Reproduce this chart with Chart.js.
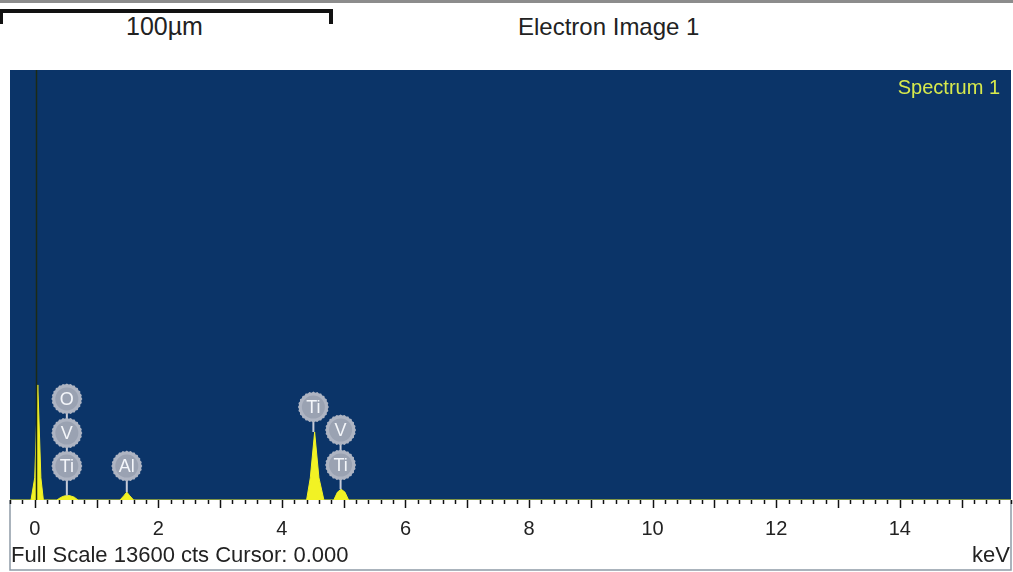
<!DOCTYPE html>
<html>
<head>
<meta charset="utf-8">
<script src="https://cdn.jsdelivr.net/npm/chart.js@4/dist/chart.umd.min.js"></script>
<style>
  body { margin: 0; background: #fff; font-family: "Liberation Sans", Arial, sans-serif; }
  #wrap { position: relative; width: 1013px; height: 572px; overflow: hidden; }
  #topband { position: absolute; left: 0; top: 0; width: 1013px; height: 3px; background: #8c8c8c; }
  #scalebar { position: absolute; left: 0; top: 9px; width: 326px; height: 11px;
              border-top: 4px solid #111; border-left: 3px solid #111; border-right: 4px solid #111; }
  .txt { position: absolute; white-space: nowrap; color: #222; line-height: 1; }
  canvas { position: absolute; left: 0; top: 0; }
</style>
</head>
<body>
<div id="wrap">
  <div id="topband"></div>
  <div id="scalebar"></div>
  <div class="txt" style="left:126px; top:14px; font-size:25px;">100µm</div>
  <div class="txt" style="left:518px; top:15px; font-size:24px;">Electron Image 1</div>
  <canvas id="chart" width="1013" height="572"></canvas>
  <div class="txt" style="right:13px; top:77px; font-size:20px; color:#d8ea4c;">Spectrum 1</div>
  <div class="txt" style="left:11px; top:544px; font-size:22px;">Full Scale 13600 cts Cursor: 0.000</div>
  <div class="txt" style="right:3px; top:544px; font-size:22px;">keV</div>
</div>
<script>
// spectrum (keV, counts)
var energies = [-0.4, -0.06, 0.0, 0.05, 0.1, 0.14, 0.36, 0.42, 0.48, 0.56, 0.64, 0.7,
                1.38, 1.44, 1.49, 1.54, 1.6, 4.4, 4.46, 4.53, 4.6, 4.68, 4.84, 4.9, 4.96, 5.02, 5.08, 15.8];
var counts   = [0, 0, 700, 3640, 700, 0, 0, 80, 130, 140, 90, 0,
                0, 130, 250, 130, 0, 0, 700, 2150, 700, 0, 0, 250, 340, 250, 0, 0];

// x axis labels
var xTickValues = [0, 2, 4, 6, 8, 10, 12, 14];
var fullScale = 13600;
var cursorKeV = 0.0;

// element markers: text, energy and height (counts) of badge
var markerTexts    = ['O', 'V', 'Ti', 'Al', 'Ti', 'V', 'Ti'];
var markerEnergies = [0.52, 0.52, 0.52, 1.49, 4.51, 4.95, 4.95];
var markerCounts   = [3195, 2119, 1075, 1075, 2941, 2214, 1107];

// stems from the badges down to the peak
var stemEnergies = [0.52, 1.49, 4.51, 4.95];
var stemTops     = [3195, 1075, 2941, 2214];
var stemEnds     = [140, 250, 2150, 340];

var points = energies.map(function(e, i) { return { x: e, y: counts[i] }; });

// paint the navy plot area and the axis strip (frame, ticks, labels)
var backdrop = {
    id: 'backdrop',
    beforeDraw: function(chart) {
        var a = chart.chartArea, ctx = chart.ctx;
        ctx.save();
        ctx.fillStyle = '#0b3468';
        ctx.fillRect(a.left, a.top, a.right - a.left, a.bottom - a.top);
        ctx.restore();
    },
    afterDraw: function(chart) {
        var a = chart.chartArea, ctx = chart.ctx, xs = chart.scales.x;
        ctx.save();
        // frame round the axis strip
        ctx.strokeStyle = '#8e9aa6';
        ctx.lineWidth = 1.5;
        ctx.beginPath();
        ctx.moveTo(a.left, a.bottom);
        ctx.lineTo(a.left, 570);
        ctx.lineTo(a.right, 570);
        ctx.lineTo(a.right, a.bottom);
        ctx.stroke();
        // minor and major ticks
        ctx.strokeStyle = '#111';
        ctx.lineWidth = 1.5;
        for (var k = -2; k <= 79; k++) {
            var v = k / 5;
            var px = Math.round(xs.getPixelForValue(v)) + 0.5;
            var len = (k % 5 === 0) ? 8 : 4;
            ctx.beginPath();
            ctx.moveTo(px, a.bottom);
            ctx.lineTo(px, a.bottom + len);
            ctx.stroke();
        }
        // tick labels
        ctx.fillStyle = '#222';
        ctx.font = '20px "Liberation Sans", Arial, sans-serif';
        ctx.textAlign = 'center';
        ctx.textBaseline = 'alphabetic';
        xTickValues.forEach(function(v) {
            ctx.fillText(String(v), xs.getPixelForValue(v), a.bottom + 35);
        });
        ctx.restore();
    }
};

// cursor line, stems and element badges
var markers = {
    id: 'markers',
    afterDatasetsDraw: function(chart) {
        var ctx = chart.ctx, xs = chart.scales.x, ys = chart.scales.y, a = chart.chartArea;
        ctx.save();
        // cursor
        var cx = Math.round(xs.getPixelForValue(cursorKeV)) + 1.5;
        ctx.strokeStyle = '#1c2a14';
        ctx.lineWidth = 1.5;
        ctx.beginPath();
        ctx.moveTo(cx, a.top);
        ctx.lineTo(cx, a.bottom);
        ctx.stroke();
        // stems
        ctx.strokeStyle = '#c8ccd8';
        ctx.lineWidth = 2;
        stemEnergies.forEach(function(e, i) {
            var px = xs.getPixelForValue(e);
            ctx.beginPath();
            ctx.moveTo(px, ys.getPixelForValue(stemTops[i]));
            ctx.lineTo(px, ys.getPixelForValue(stemEnds[i]));
            ctx.stroke();
        });
        // badges
        markerTexts.forEach(function(t, i) {
            var px = xs.getPixelForValue(markerEnergies[i]);
            var py = ys.getPixelForValue(markerCounts[i]);
            ctx.fillStyle = '#aeb4c2';
            ctx.beginPath();
            for (var s = 0; s <= 48; s++) {
                var ang = s / 48 * Math.PI * 2;
                var r = (s % 2 === 0) ? 15.5 : 14.5;
                var qx = px + r * Math.cos(ang), qy = py + r * Math.sin(ang);
                if (s === 0) ctx.moveTo(qx, qy); else ctx.lineTo(qx, qy);
            }
            ctx.closePath();
            ctx.fill();
            ctx.fillStyle = '#9aa2b2';
            ctx.beginPath();
            ctx.arc(px, py, 11.5, 0, Math.PI * 2);
            ctx.fill();
            ctx.fillStyle = '#f4f6fa';
            ctx.font = '18px "Liberation Sans", Arial, sans-serif';
            ctx.textAlign = 'center';
            ctx.textBaseline = 'middle';
            ctx.fillText(t, px, py + 1);
        });
        ctx.restore();
    }
};

new Chart(document.getElementById('chart'), {
    type: 'line',
    data: {
        datasets: [{
            data: points,
            borderColor: '#f2f224',
            backgroundColor: '#f2f224',
            borderWidth: 1,
            fill: 'origin',
            pointRadius: 0,
            tension: 0
        }]
    },
    options: {
        responsive: false,
        animation: false,
        events: [],
        layout: { padding: { left: 10, right: 2, top: 70, bottom: 0 } },
        plugins: { legend: { display: false }, tooltip: { enabled: false } },
        scales: {
            x: {
                type: 'linear',
                min: -0.4,
                max: 15.8,
                grid: { display: false },
                border: { display: false },
                ticks: { display: false },
                afterFit: function(scale) { scale.height = 72; }
            },
            y: {
                display: false,
                min: 0,
                max: fullScale
            }
        }
    },
    plugins: [backdrop, markers]
});
</script>
</body>
</html>
